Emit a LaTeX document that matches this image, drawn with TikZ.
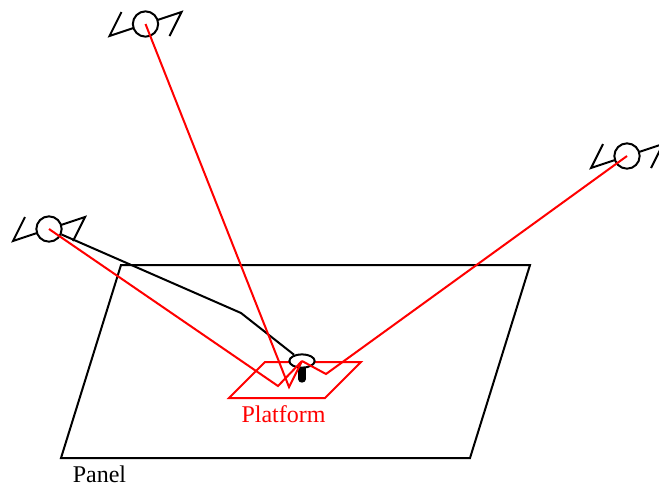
\documentclass[tikz,border=0pt]{standalone}
\usepackage{fontspec}
\setmainfont{Liberation Serif}
\usetikzlibrary{shapes.geometric}
\tikzset{
    wire/.style={line width=1.5pt, line join=miter},
    ray/.style={line width=1.5pt, red},
    satbody/.style={circle, draw, line width=1.5pt, inner sep=0pt, minimum size=19pt},
    label/.style={font=\fontsize{18}{20}\selectfont, inner sep=0pt}
}
\begin{document}
\begin{tikzpicture}[x=0.75pt, y=-0.75pt]
    \useasboundingbox (0,0) rectangle (659,487);

    % Panel and platform outlines
    \draw[wire] (121,265) -- (530,265) -- (470,458) -- (61,458) -- cycle;
    \draw[ray] (265,362) -- (361,362) -- (325,398) -- (229,398) -- cycle;
    \node[label] (panel) at (99.5,474) {Panel};
    \node[label, red] (platform) at (283.5,414) {Platform};

    % Receiver on its post
    \coordinate (postTop) at (302,367);
    \coordinate (postEnd) at (302,379);
    \draw[line width=5.5pt, line cap=round] (postTop) -- (postEnd);
    \node[ellipse, draw, fill=white, line width=1.5pt, inner sep=0pt, minimum width=19pt, minimum height=10pt] (receiver) at (302,361) {};

    % Satellites
    \foreach \name/\pos in {satTop/{145.5,24}, satLeft/{49,229}, satRight/{627,156}} {
        \node[satbody] (\name) at (\pos) {};
        \draw[wire] (\name) ++(-12,4) -- ++(-24,8) -- ++(12,-24);
        \draw[wire] (\name) ++(12,-4) -- ++(24,-8) -- ++(-12,24);
    }

    % Cable from the left satellite
    \coordinate (cableBend) at (241,313);
    \draw[wire] (satLeft) -- (cableBend) -- (receiver);

    % Reflected rays
    \coordinate (hitLeft) at (278,386);
    \coordinate (hitTop) at (289,387);
    \coordinate (hitRight) at (326,374);
    \draw[ray] (satLeft.center) -- (hitLeft) -- (receiver.center);
    \draw[ray] (satTop.center) -- (hitTop) -- (receiver.center);
    \draw[ray] (satRight.center) -- (hitRight) -- (receiver.center);
\end{tikzpicture}
\end{document}
